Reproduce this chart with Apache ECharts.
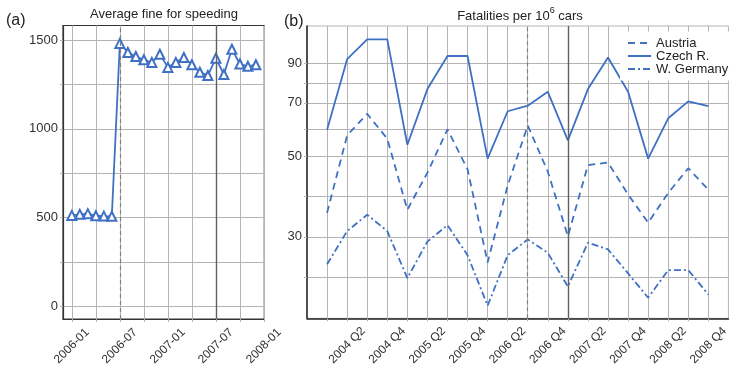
<!DOCTYPE html>
<html>
<head>
<meta charset="utf-8">
<script src="https://cdn.jsdelivr.net/npm/echarts@6/dist/echarts.min.js"></script>
<style>
  html, body { margin: 0; padding: 0; background: #fff; }
  #chart { width: 731px; height: 368px; }
</style>
</head>
<body>
<div id="chart"></div>
<script>
// (a) average fine for speeding, monthly
var fineMonths = ['2006-01', '2006-02', '2006-03', '2006-04', '2006-05', '2006-06',
                  '2006-07', '2006-08', '2006-09', '2006-10', '2006-11', '2006-12',
                  '2007-01', '2007-02', '2007-03', '2007-04', '2007-05', '2007-06',
                  '2007-07', '2007-08', '2007-09', '2007-10', '2007-11', '2007-12'];
var fineValues = [512, 518, 522, 510, 508, 507,
                  1481, 1430, 1407, 1389, 1374, 1420,
                  1346, 1374, 1402, 1361, 1319, 1300,
                  1398, 1306, 1448, 1365, 1352, 1361];
var fineTickLabels = ['2006-01', '2006-07', '2007-01', '2007-07', '2008-01'];
var fineYLabels = [0, 500, 1000, 1500];
var fineYGrid = [0, 250, 500, 750, 1000, 1250, 1500];
var fineEvents = ['2006-07', '2007-07'];

// (b) fatalities per 10^6 cars, quarterly
var quarters = ['2004 Q1', '2004 Q2', '2004 Q3', '2004 Q4',
                '2005 Q1', '2005 Q2', '2005 Q3', '2005 Q4',
                '2006 Q1', '2006 Q2', '2006 Q3', '2006 Q4',
                '2007 Q1', '2007 Q2', '2007 Q3', '2007 Q4',
                '2008 Q1', '2008 Q2', '2008 Q3', '2008 Q4'];
var austria = [34.9, 57.0, 65.3, 55.8, 35.6, 45.0, 59.2, 46.0, 25.5, 41.5,
               60.7, 45.3, 30.1, 47.2, 48.0, 39.2, 32.8, 39.6, 46.3, 40.4];
var czech = [59.1, 92.3, 104.7, 104.7, 53.7, 76.4, 94.2, 94.2, 49.2, 66.4,
             68.8, 75.1, 55.2, 76.4, 93.3, 75.1, 49.2, 63.5, 70.7, 68.6];
var germany = [25.2, 31.1, 34.5, 31.1, 23.1, 29.1, 32.3, 26.7, 19.4, 26.7,
               29.5, 27.1, 21.9, 28.9, 27.7, 23.8, 20.4, 24.3, 24.3, 20.8];
var fatalYLabels = [30, 50, 70, 90];
var fatalYGrid = [23.2, 30, 38.7, 50, 59.2, 70, 79.4, 90];
var fatalEvents = ['2006 Q3', '2007 Q1'];

var FONT = '"Liberation Sans", Arial, sans-serif';
var BLUE = '#3f70c3';
var GRID = '#b4b4b4';
var TEXT = '#333';

function monthPos(s) {
  var p = s.split('-');
  return (+p[0] - 2006) * 12 + (+p[1] - 1);
}
var fineLabelPos = fineTickLabels.map(monthPos);
var fineGridPos = [];
for (var m = 0; m <= monthPos('2008-01'); m += 3) fineGridPos.push(m);
var quarterPos = quarters.map(function (q, i) { return i; });
var quarterLabelPos = quarterPos.filter(function (i) { return /Q[24]$/.test(quarters[i]); });

function eventLines(list) {
  return {
    silent: true,
    symbol: ['none', 'none'],
    label: { show: false },
    data: [
      { xAxis: list[0], lineStyle: { color: '#808080', type: [4, 3], width: 1.2 } },
      { xAxis: list[1], lineStyle: { color: '#606060', type: 'solid', width: 1.4 } }
    ]
  };
}

var xLabel = {
  rotate: 45, align: 'center', margin: 27,
  fontSize: 12, color: TEXT, fontFamily: FONT, hideOverlap: false
};
var yLabel = {
  fontSize: 13, color: TEXT, fontFamily: FONT, margin: 5,
  formatter: function (v) { return String(v); }
};

var option = {
  animation: false,
  backgroundColor: '#fff',
  title: [
    { text: '(a)', left: 6, top: 13, padding: 0,
      textStyle: { fontSize: 16, fontWeight: 'normal', color: '#222', fontFamily: FONT } },
    { text: 'Average fine for speeding', left: 164, top: 8, padding: 0, textAlign: 'center',
      textStyle: { fontSize: 13, fontWeight: 'normal', color: '#222', fontFamily: FONT } },
    { text: '(b)', left: 284, top: 14, padding: 0,
      textStyle: { fontSize: 16, fontWeight: 'normal', color: '#222', fontFamily: FONT } },
    { text: '{a|Fatalities per 10}{s|6}{a| cars}', left: 520, top: 6, padding: 0, textAlign: 'center',
      textStyle: {
        fontSize: 13, fontWeight: 'normal', color: '#222', fontFamily: FONT,
        rich: {
          a: { fontSize: 13, fontWeight: 'normal', color: '#222', fontFamily: FONT, lineHeight: 17, verticalAlign: 'bottom' },
          s: { fontSize: 9, fontWeight: 'normal', color: '#222', fontFamily: FONT, lineHeight: 17, verticalAlign: 'top' }
        }
      } }
  ],
  legend: {
    data: ['Austria', 'Czech R.', 'W. Germany'],
    orient: 'vertical',
    left: 620, top: 31.5,
    padding: [5, 8, 5, 7],
    itemWidth: 23, itemHeight: 12.5, itemGap: 0,
    backgroundColor: '#fff',
    itemStyle: { opacity: 0 },
    textStyle: { fontSize: 13, color: '#222', fontFamily: FONT }
  },
  grid: [
    { left: 63, top: 25.5, width: 201.3, height: 296.2, show: true,
      borderColor: '#333', borderWidth: 1.2, containLabel: false },
    { left: 307, top: 26, width: 426.7, height: 295.7, show: true,
      borderColor: GRID, borderWidth: 1, containLabel: false }
  ],
  xAxis: [
    { gridIndex: 0, type: 'value', min: -1.1, max: 24.05,
      axisLine: { show: true, onZero: false, lineStyle: { color: '#333', width: 1.2 } },
      axisTick: { show: true, length: 3, customValues: fineGridPos, lineStyle: { color: GRID } },
      splitLine: { show: true, lineStyle: { color: GRID, width: 1 } },
      axisLabel: Object.assign({}, xLabel, {
        customValues: fineLabelPos,
        formatter: function (v) { return fineTickLabels[fineLabelPos.indexOf(v)] || ''; }
      }) },
    { gridIndex: 1, type: 'value', min: -1, max: 20,
      axisLine: { show: true, onZero: false, lineStyle: { color: '#222', width: 1.5 } },
      axisTick: { show: true, length: 3, customValues: quarterPos, lineStyle: { color: GRID } },
      splitLine: { show: true, lineStyle: { color: GRID, width: 1 } },
      axisLabel: Object.assign({}, xLabel, {
        customValues: quarterLabelPos,
        formatter: function (v) { return quarters[v] || ''; }
      }) }
  ],
  yAxis: [
    { gridIndex: 0, type: 'value', min: -72, max: 1582,
      axisLine: { show: true, onZero: false, lineStyle: { color: '#333', width: 1.2 } },
      axisTick: { show: true, length: 3, customValues: fineYGrid, lineStyle: { color: GRID } },
      splitLine: { show: true, lineStyle: { color: GRID, width: 1 } },
      axisLabel: Object.assign({}, yLabel, { customValues: fineYLabels }) },
    { gridIndex: 1, type: 'log', logBase: 10, min: 17.9, max: 113.9,
      axisLine: { show: true, onZero: false, lineStyle: { color: '#222', width: 1.5 } },
      axisTick: { show: true, length: 3, customValues: fatalYGrid, lineStyle: { color: GRID } },
      splitLine: { show: true, lineStyle: { color: GRID, width: 1 } },
      axisLabel: Object.assign({}, yLabel, { customValues: fatalYLabels }) }
  ],
  series: [
    { name: 'fine', type: 'line', xAxisIndex: 0, yAxisIndex: 0,
      data: fineMonths.map(function (d, i) { return [monthPos(d), fineValues[i]]; }),
      symbol: 'emptyTriangle', symbolSize: 9,
      lineStyle: { color: BLUE, width: 1.8 },
      itemStyle: { color: BLUE, borderColor: BLUE, borderWidth: 1.5 },
      markLine: eventLines(fineEvents.map(monthPos)) },
    { name: 'Austria', type: 'line', xAxisIndex: 1, yAxisIndex: 1,
      data: quarters.map(function (q, i) { return [i, austria[i]]; }),
      symbol: 'none',
      lineStyle: { color: BLUE, width: 1.8, type: [7, 5] },
      itemStyle: { color: BLUE },
      markLine: eventLines(fatalEvents.map(function (q) { return quarters.indexOf(q); })) },
    { name: 'Czech R.', type: 'line', xAxisIndex: 1, yAxisIndex: 1,
      data: quarters.map(function (q, i) { return [i, czech[i]]; }),
      symbol: 'none',
      lineStyle: { color: BLUE, width: 1.8 },
      itemStyle: { color: BLUE } },
    { name: 'W. Germany', type: 'line', xAxisIndex: 1, yAxisIndex: 1,
      data: quarters.map(function (q, i) { return [i, germany[i]]; }),
      symbol: 'none',
      lineStyle: { color: BLUE, width: 1.8, type: [7, 3, 2, 3] },
      itemStyle: { color: BLUE } }
  ]
};

var myChart = echarts.init(document.getElementById('chart'));
myChart.setOption(option);
</script>
</body>
</html>
